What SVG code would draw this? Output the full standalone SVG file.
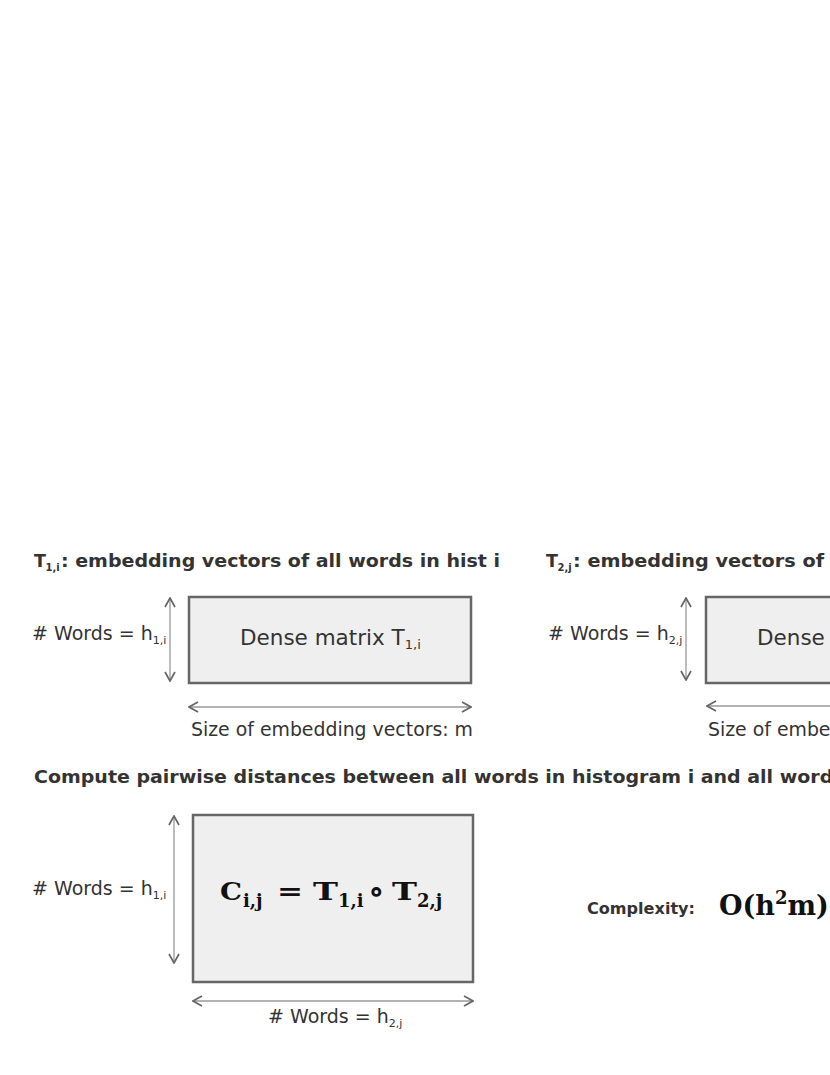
<svg xmlns="http://www.w3.org/2000/svg" width="830" height="1075" viewBox="0 0 830 1075">
<style>
.title{font-family:"DejaVu Sans",sans-serif;font-weight:bold;font-size:17.5px;fill:#333}
.tsub{font-family:"DejaVu Sans",sans-serif;font-weight:bold;font-size:10px;fill:#333}
.lbl{font-family:"DejaVu Sans",sans-serif;font-size:19px;fill:#333}
.lsub{font-size:11px}
.dense{font-family:"DejaVu Sans",sans-serif;font-size:21.5px;fill:#333}
.dsub{font-size:13px}
.box{fill:#efefef;stroke:#666;stroke-width:2.5}
.arr{stroke:#999;stroke-width:1.3;fill:none;marker-start:url(#head);marker-end:url(#head)}
.math{font-family:"DejaVu Serif",serif;font-weight:bold;fill:#111;font-size:25px}
.msub{font-family:"DejaVu Serif",serif;font-weight:bold;fill:#111;font-size:18px}
</style>
<defs>
<marker id="head" viewBox="0 0 12 12" refX="11" refY="6" markerWidth="12" markerHeight="12" markerUnits="userSpaceOnUse" orient="auto-start-reverse">
<path d="M2,1 L11,6 L2,11" fill="none" stroke="#666" stroke-width="1.7"/>
</marker>
</defs>
<rect width="830" height="1075" fill="#fff"/>
<g id="panel1">
<text class="title" x="34" y="567">T</text>
<text class="tsub" x="45.5" y="571">1,i</text>
<text class="title" x="61" y="567" textLength="439" lengthAdjust="spacingAndGlyphs">: embedding vectors of all words in hist i</text>
<rect id="matrix1" class="box" x="189" y="597" width="282" height="86"/>
<text class="dense" x="240" y="645">Dense matrix T<tspan class="dsub" dy="4">1,i</tspan></text>
<text class="lbl" x="32" y="639.5">#&#160;Words = h<tspan class="lsub" dy="4">1,i</tspan></text>
<text class="lbl" x="191" y="736" textLength="282" lengthAdjust="spacingAndGlyphs">Size of embedding vectors: m</text>
</g>
<g id="panel2">
<text class="title" x="546" y="567">T</text>
<text class="tsub" x="557.5" y="571">2,j</text>
<text class="title" x="573" y="567" textLength="444" lengthAdjust="spacingAndGlyphs">: embedding vectors of all words in hist j</text>
<rect id="matrix2" class="box" x="706" y="597" width="282" height="86"/>
<text class="dense" x="757" y="645">Dense matrix T<tspan class="dsub" dy="4">2,j</tspan></text>
<text class="lbl" x="548" y="639.5">#&#160;Words = h<tspan class="lsub" dy="4">2,j</tspan></text>
<text class="lbl" x="708" y="736" textLength="282" lengthAdjust="spacingAndGlyphs">Size of embedding vectors: m</text>
</g>
<g id="panel3">
<text class="title" x="34" y="782.5" textLength="966" lengthAdjust="spacingAndGlyphs">Compute pairwise distances between all words in histogram i and all words in histogram j</text>
<rect id="matrixC" class="box" x="193" y="815" width="280" height="167"/>
<g id="formula">
<text class="math" x="220" y="900" textLength="22" lengthAdjust="spacingAndGlyphs">C</text>
<text class="msub" x="243" y="907">i,j</text>
<text class="math" x="277" y="900" textLength="26" lengthAdjust="spacingAndGlyphs">=</text>
<text class="math" x="313" y="900" textLength="25" lengthAdjust="spacingAndGlyphs">T</text>
<text class="msub" x="338" y="907">1,i</text>
<text class="math" x="368" y="902" style="font-size:32px">∘</text>
<text class="math" x="392" y="900" textLength="25" lengthAdjust="spacingAndGlyphs">T</text>
<text class="msub" x="417" y="907">2,j</text>
</g>
<text class="lbl" x="32" y="895">#&#160;Words = h<tspan class="lsub" dy="4">1,i</tspan></text>
<text class="lbl" x="268" y="1023">#&#160;Words = h<tspan class="lsub" dy="4">2,j</tspan></text>
</g>
<g id="complexity">
<text class="title" x="587" y="914" style="font-size:15.5px" textLength="108" lengthAdjust="spacingAndGlyphs">Complexity:</text>
<text class="math" x="719" y="915" style="font-size:27px">O(h<tspan style="font-size:18px" dy="-11">2</tspan><tspan dy="11">m)</tspan></text>
</g>
<g id="connectors">
<line class="arr" x1="170" y1="598" x2="170" y2="681"/>
<line class="arr" x1="189" y1="707" x2="471" y2="707"/>
<line class="arr" x1="686" y1="598" x2="686" y2="680"/>
<line class="arr" x1="707" y1="706" x2="988" y2="706"/>
<line class="arr" x1="174" y1="816" x2="174" y2="963"/>
<line class="arr" x1="193" y1="1001" x2="473" y2="1001"/>
</g>
</svg>
